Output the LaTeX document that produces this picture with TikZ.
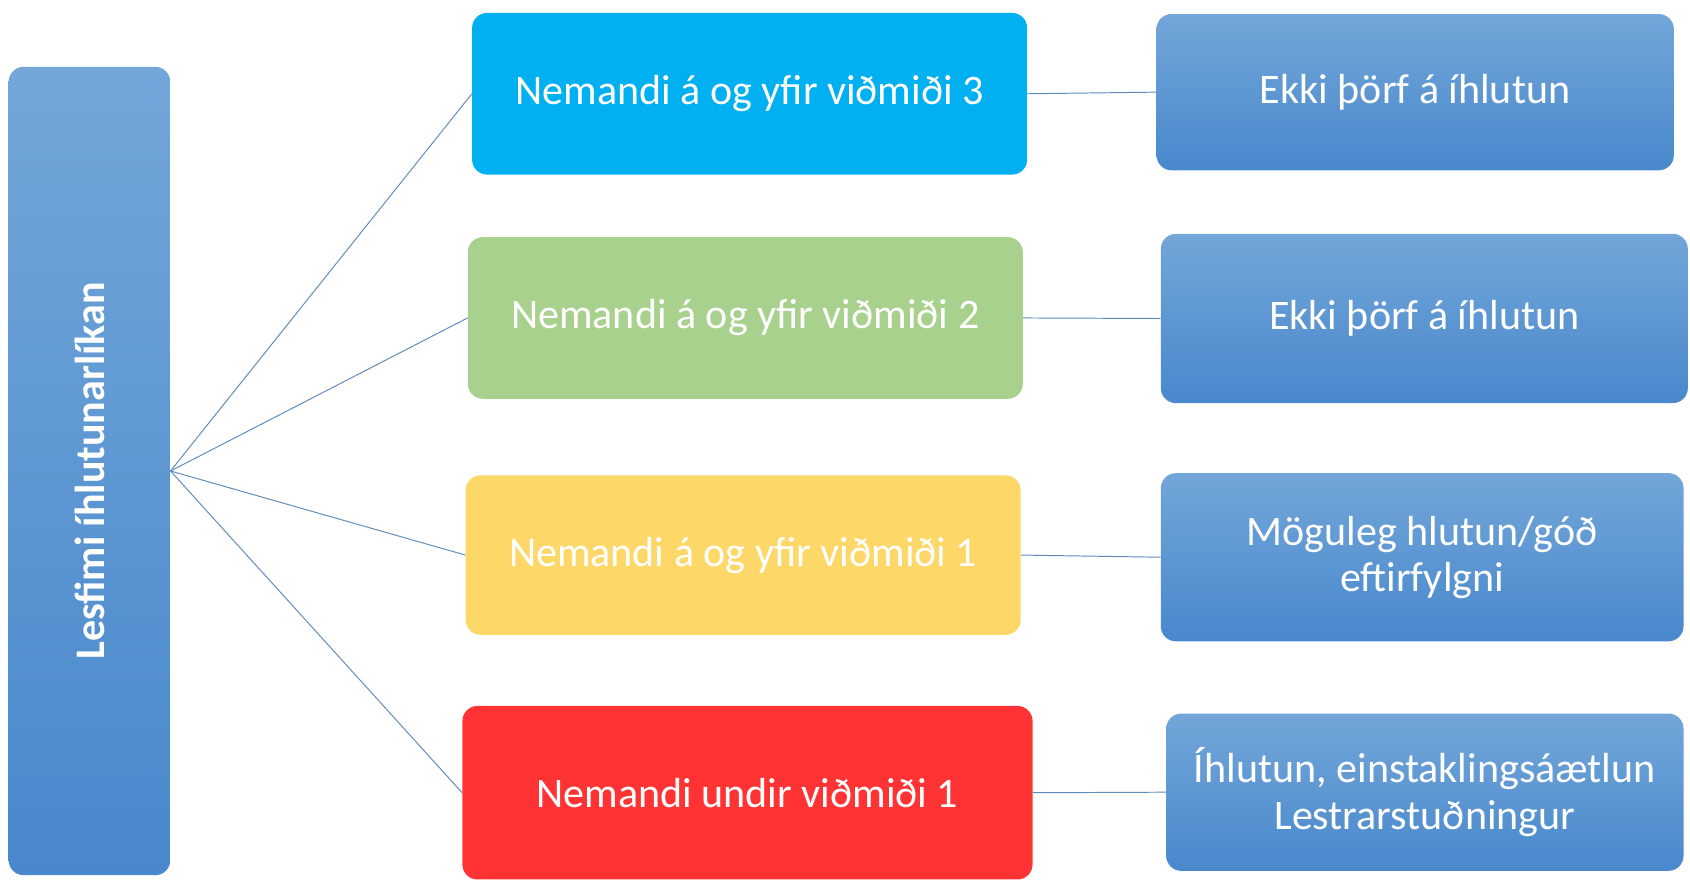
\documentclass[tikz,border=0pt]{standalone}
\usepackage{fontspec}
\setmainfont{Carlito}

\definecolor{levelthree}{RGB}{0,176,240}
\definecolor{leveltwo}{RGB}{169,209,142}
\definecolor{levelone}{RGB}{253,216,104}
\definecolor{levelunder}{RGB}{255,51,51}
\definecolor{gradtop}{RGB}{115,166,217}
\definecolor{gradbot}{RGB}{72,136,204}
\definecolor{linkcol}{RGB}{96,138,186}

\tikzset{
  box/.style={rounded corners=14pt, inner sep=0pt, align=center, text=white,
    font=\fontsize{39}{43}\selectfont},
  bluebox/.style={box, top color=gradtop, bottom color=gradbot},
  link/.style={linkcol, line width=0.9pt}
}

\begin{document}
\begin{tikzpicture}[x=1pt,y=-1pt]
        \useasboundingbox (0,0) rectangle (1568,818);

        % Nodes
        \node[bluebox, minimum width=150pt, minimum height=750pt] (model) at (83,437)
            {\rotatebox{90}{\bfseries Lesfimi íhlutunarlíkan}};

        \node[box, fill=levelthree, minimum width=515pt, minimum height=150pt] (crit3) at (695.5,87) {Nemandi á og yfir viðmiði 3};
        \node[box, fill=leveltwo, minimum width=515pt, minimum height=150pt] (crit2) at (691.5,295) {Nemandi á og yfir viðmiði 2};
        \node[box, fill=levelone, minimum width=515pt, minimum height=148pt] (crit1) at (689.5,515) {Nemandi á og yfir viðmiði 1};
        \node[box, fill=levelunder, minimum width=529pt, minimum height=161pt] (crit0) at (693.5,735.5) {Nemandi undir viðmiði 1};

        \node[bluebox, minimum width=480pt, minimum height=145pt] (act3) at (1313,85.5) {Ekki þörf á íhlutun};
        \node[bluebox, minimum width=489pt, minimum height=157pt] (act2) at (1321.5,295.5) {Ekki þörf á íhlutun};
        \node[bluebox, minimum width=485pt, minimum height=156pt] (act1) at (1319.5,517) {Möguleg hlutun/góð\\eftirfylgni};
        \node[bluebox, minimum width=480pt, minimum height=146pt] (act0) at (1322,735) {Íhlutun, einstaklingsáætlun\\Lestrarstuðningur};

        % Edges
        \foreach \c in {crit3, crit2, crit1, crit0}
            \draw[link] (model.east) -- (\c.west);
        \foreach \c/\a in {crit3/act3, crit2/act2, crit1/act1, crit0/act0}
            \draw[link] (\c.east) -- (\a.west);
    \end{tikzpicture}
\end{document}
